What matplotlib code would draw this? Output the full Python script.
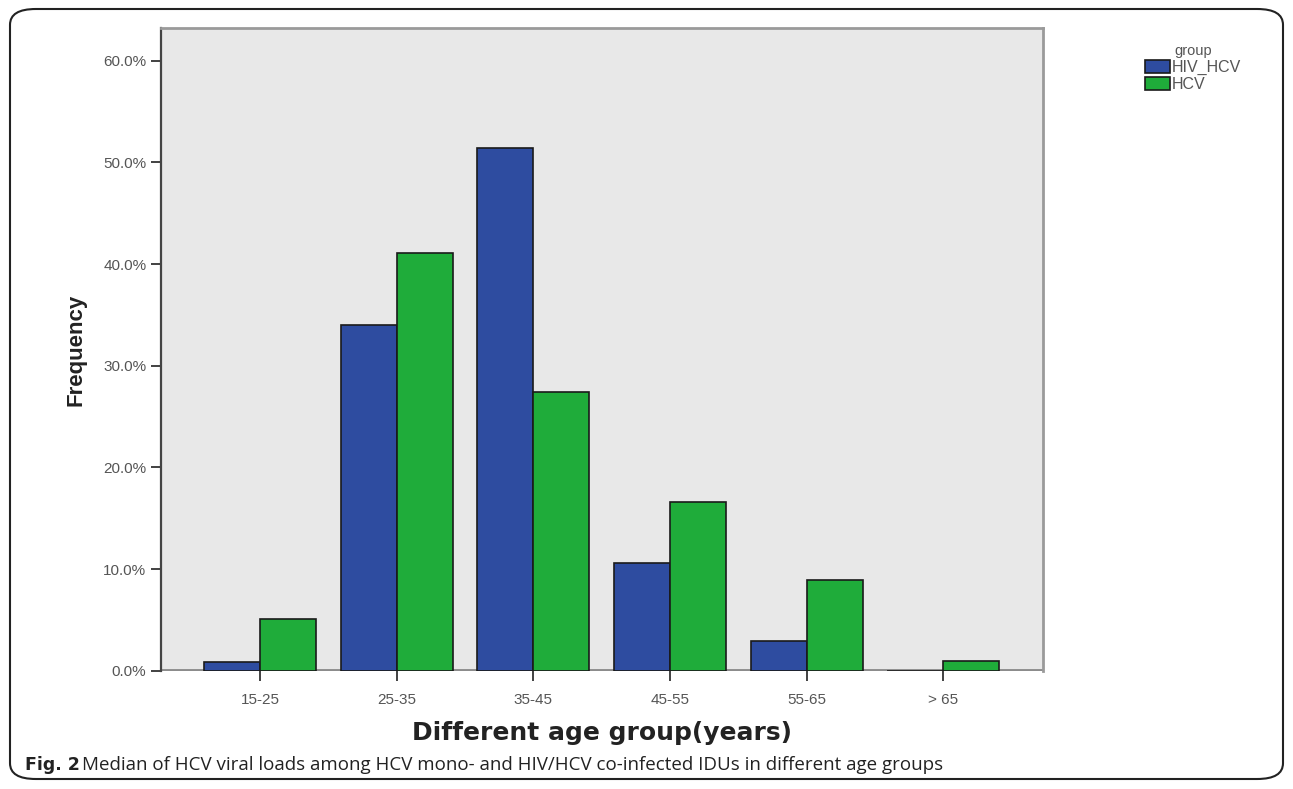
import matplotlib.pyplot as plt
import numpy as np
from matplotlib.patches import FancyBboxPatch
from matplotlib.ticker import FuncFormatter

age_groups = ['15-25', '25-35', '35-45', '45-55', '55-65', '> 65']
hiv_hcv = [0.9, 34.0, 51.4, 10.6, 2.9, 0.0]
hcv = [5.1, 41.1, 27.4, 16.6, 8.9, 1.0]
series_names = ['HIV_HCV', 'HCV']

plt.rcParams['font.family'] = ['Liberation Sans', 'DejaVu Sans']

fig = plt.figure(figsize=(12.93, 7.89), dpi=100)
ax = fig.add_axes([0.1245, 0.1496, 0.6822, 0.8149])
ax.set_facecolor('#e8e8e8')

x = np.arange(len(age_groups))
w = 0.41
ax.bar(x - w / 2, hiv_hcv, w, color='#2e4ca0', edgecolor='#1a1a1a', linewidth=1.2, label=series_names[0], zorder=3)
ax.bar(x + w / 2, hcv, w, color='#1fac3a', edgecolor='#1a1a1a', linewidth=1.2, label=series_names[1], zorder=3)
ax.axhline(0, color='#8c8c8c', linewidth=3.5, zorder=2)

ax.set_xlim(-0.725, 5.73)
ax.set_ylim(0, 63.2)
ax.set_yticks(np.arange(0, 61, 10))
ax.yaxis.set_major_formatter(FuncFormatter(lambda v, p: '%.1f%%' % v))
ax.set_xticks(x)
ax.set_xticklabels(age_groups)
ax.tick_params(axis='both', direction='out', length=7, width=1.3, color='#333333',
               labelsize=11, labelcolor='#555555')
ax.tick_params(axis='x', pad=9)
for side in ['top', 'right']:
    ax.spines[side].set_color('#9a9a9a')
    ax.spines[side].set_linewidth(2)
ax.spines['left'].set_color('#444444')
ax.spines['left'].set_linewidth(1.6)
ax.spines['bottom'].set_visible(False)

ax.set_ylabel('Frequency', fontsize=16, fontweight='bold', color='#222222',
              family=['Liberation Sans Narrow', 'Liberation Sans'], labelpad=12)
ax.set_xlabel('Different age group(years)', fontsize=18, fontweight='bold', color='#222222',
              family='DejaVu Sans', labelpad=10)

leg = ax.legend(loc='upper left', bbox_to_anchor=(1.108, 0.985), title='group', frameon=False,
                fontsize=11.5, title_fontsize=10.5, handlelength=1.6, handleheight=0.9,
                handletextpad=0.1, labelspacing=0.1, borderaxespad=0)
for t in leg.get_texts():
    t.set_color('#555555')
leg.get_title().set_color('#555555')

box = FancyBboxPatch((10 / 1293, 10 / 789), 1273 / 1293, 770 / 789,
                     boxstyle='round,pad=0,rounding_size=0.02', transform=fig.transFigure,
                     facecolor='none', edgecolor='#222222', linewidth=1.5)
fig.patches.append(box)

fig.text(25 / 1293, 1 - 765 / 789, 'Fig. 2', fontsize=12.5, fontweight='bold', color='#222222',
         family='DejaVu Sans', va='center')
fig.text(82 / 1293, 1 - 765 / 789,
         'Median of HCV viral loads among HCV mono- and HIV/HCV co-infected IDUs in different age groups',
         fontsize=13.5, color='#222222', family='Open Sans', va='center')

fig.savefig('out.png', dpi=100)
